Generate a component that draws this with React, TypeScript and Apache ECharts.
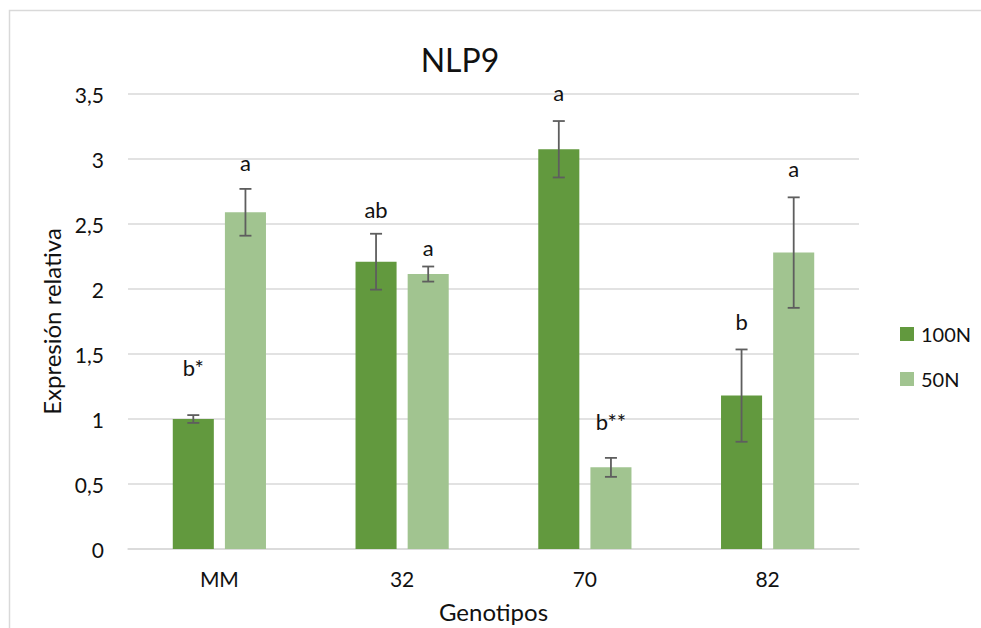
import React, { useEffect, useRef } from "react";
import * as echarts from "echarts";

const categories = ["MM", "32", "70", "82"];
const seriesNames = ["100N", "50N"];
const values100N = [1.0, 2.21, 3.075, 1.18];
const err100N = [0.03, 0.215, 0.217, 0.355];
const values50N = [2.59, 2.115, 0.628, 2.28];
const err50N = [0.18, 0.058, 0.073, 0.425];
const letters100N = ["b*", "ab", "a", "b"];
const letters50N = ["a", "a", "b**", "a"];
const letterY100N = [1.4, 2.61, 3.51, 1.75];
const letterY50N = [2.97, 2.32, 0.98, 2.93];

const C100 = "#62993E";
const C50 = "#A1C490";
const FONT = "Lato, 'Open Sans', sans-serif";
const CAT_GAP = 0.49;
const BAR_GAP = 0.27;

function makeErrorSeries(vals: number[], errs: number[], letters: string[], ly: number[], sign: number) {
  return {
    type: "custom",
    silent: true,
    z: 10,
    data: vals.map((v, i) => [i, v, errs[i], ly[i]]),
    renderItem: (params: any, api: any) => {
      const idx = api.value(0);
      const v = api.value(1);
      const e = api.value(2);
      const lyv = api.value(3);
      const band = api.size([1, 0])[0];
      const bw = (band * (1 - CAT_GAP)) / (2 + BAR_GAP);
      const off = (sign * (bw + bw * BAR_GAP)) / 2;
      const top = api.coord([idx, v + e]);
      const bot = api.coord([idx, v - e]);
      const lp = api.coord([idx, lyv]);
      const x = top[0] + off;
      const cap = 6;
      const st = { stroke: "#5E5E5E", lineWidth: 1.8 };
      return {
        type: "group",
        children: [
          { type: "line", shape: { x1: x, y1: top[1], x2: x, y2: bot[1] }, style: st },
          { type: "line", shape: { x1: x - cap, y1: top[1], x2: x + cap, y2: top[1] }, style: st },
          { type: "line", shape: { x1: x - cap, y1: bot[1], x2: x + cap, y2: bot[1] }, style: st },
          {
            type: "text",
            style: {
              text: letters[params.dataIndex],
              x: lp[0] + off,
              y: lp[1],
              fill: "#111",
              fontSize: 22,
              fontFamily: FONT,
              align: "center",
              verticalAlign: "middle",
            },
          },
        ],
      };
    },
  };
}

export default function App() {
  const ref = useRef<HTMLDivElement>(null);
  useEffect(() => {
    if (!ref.current) return;
    const chart = echarts.init(ref.current, undefined, { renderer: "svg" });
    chart.setOption({
      animation: false,
      backgroundColor: "#fff",
      textStyle: { fontFamily: FONT },
      graphic: [
        {
          type: "rect",
          shape: { x: 9.5, y: 10.5, width: 1200, height: 1200 },
          style: { fill: "none", stroke: "#D9D9D9", lineWidth: 1.5 },
          silent: true,
        },
        {
          type: "text",
          x: 460,
          y: 59,
          style: {
            text: "NLP9",
            fill: "#111",
            fontSize: 32,
            fontFamily: FONT,
            align: "center",
            verticalAlign: "middle",
          },
        },
      ],
      legend: {
        orient: "vertical",
        left: 895,
        top: 319,
        itemWidth: 14,
        itemHeight: 14,
        itemGap: 25,
        icon: "rect",
        data: seriesNames,
        textStyle: { fontSize: 20, color: "#111", fontFamily: FONT, padding: [0, 0, 0, 2] },
      },
      grid: { left: 128, right: 122, top: 94, bottom: 79, containLabel: false },
      xAxis: {
        type: "category",
        data: categories,
        name: "Genotipos",
        nameLocation: "middle",
        nameGap: 50,
        nameTextStyle: { fontSize: 24, color: "#111", fontFamily: FONT },
        axisLine: { lineStyle: { color: "#D9D9D9", width: 1.5 } },
        axisTick: { show: false },
        axisLabel: { fontSize: 21, color: "#111", margin: 19, fontFamily: FONT },
      },
      yAxis: {
        type: "value",
        min: 0,
        max: 3.5,
        interval: 0.5,
        name: "Expresión relativa",
        nameLocation: "middle",
        nameGap: 64,
        nameRotate: 90,
        nameTextStyle: { fontSize: 24, color: "#111", fontFamily: FONT },
        axisLine: { show: false },
        axisTick: { show: false },
        splitLine: { lineStyle: { color: "#D9D9D9", width: 1.5 } },
        axisLabel: {
          fontSize: 21,
          color: "#111",
          margin: 24,
          fontFamily: FONT,
          formatter: (v: number) => String(v).replace(".", ","),
        },
      },
      series: [
        {
          name: seriesNames[0],
          type: "bar",
          data: values100N,
          itemStyle: { color: C100 },
          barGap: BAR_GAP * 100 + "%",
          barCategoryGap: CAT_GAP * 100 + "%",
        },
        {
          name: seriesNames[1],
          type: "bar",
          data: values50N,
          itemStyle: { color: C50 },
          barGap: BAR_GAP * 100 + "%",
          barCategoryGap: CAT_GAP * 100 + "%",
        },
        makeErrorSeries(values100N, err100N, letters100N, letterY100N, -1),
        makeErrorSeries(values50N, err50N, letters50N, letterY50N, 1),
      ],
    });
    return () => chart.dispose();
  }, []);
  return (
    <div
      ref={ref}
      style={{ position: "fixed", left: 0, top: 0, width: 981, height: 628 }}
    />
  );
}
